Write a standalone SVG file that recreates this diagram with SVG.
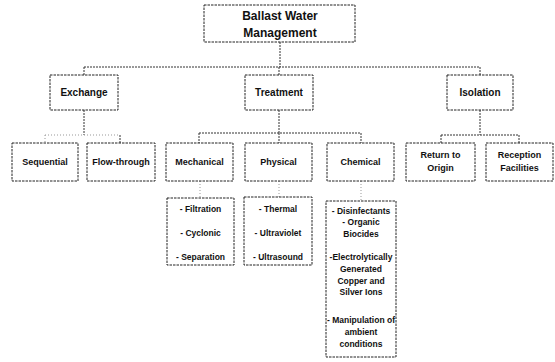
<svg xmlns="http://www.w3.org/2000/svg" width="555" height="362" viewBox="0 0 555 362">
<style>
.box{fill:#fff;stroke:#222;stroke-width:1;stroke-dasharray:2.5 1}
.ln{fill:none;stroke:#333;stroke-width:1;stroke-dasharray:2 1}
.lf{fill:none;stroke:#999;stroke-width:1;stroke-dasharray:1 2}
text{font-family:"Liberation Sans",Arial,sans-serif;font-weight:bold;fill:#111;text-anchor:middle}
.t1{font-size:12px}
.t2{font-size:10px}
.t3{font-size:9px}
.t4{font-size:8.5px}
</style>
<rect width="555" height="362" fill="#fff"/>
<g id="connectors">
<path class="ln" d="M280 42V67M84 67H480M84 67V75M279 67V75M480 67V75"/>
<path class="ln" d="M84 110V135M120 135V143"/>
<path class="lf" d="M45 135H84M84 135H120M45 135V143"/>
<path class="ln" d="M279 110V133M199 133H361M199 133V143M279 133V143M361 133V143"/>
<path class="ln" d="M480 110V135M441 135H519M441 135V143M519 135V143"/>
<path class="lf" d="M200 181V198M279 181V197M361 181V201"/>
</g>
<g id="n-bwm"><rect class="box" x="204" y="5" width="151" height="37"/><text class="t1" x="280" y="20">Ballast Water</text><text class="t1" x="280" y="37">Management</text></g>
<g id="n-exchange"><rect class="box" x="50" y="75" width="68" height="35"/><text class="t2" x="84" y="96">Exchange</text></g>
<g id="n-treatment"><rect class="box" x="245" y="75" width="68" height="35"/><text class="t2" x="279" y="96">Treatment</text></g>
<g id="n-isolation"><rect class="box" x="447" y="75" width="66" height="35"/><text class="t2" x="480" y="96">Isolation</text></g>
<g id="n-sequential"><rect class="box" x="12" y="143" width="66" height="38"/><text class="t3" x="45" y="165">Sequential</text></g>
<g id="n-flow"><rect class="box" x="87" y="143" width="68" height="38"/><text class="t3" x="121" y="165">Flow-through</text></g>
<g id="n-mechanical"><rect class="box" x="166" y="143" width="67" height="38"/><text class="t3" x="199.5" y="165">Mechanical</text></g>
<g id="n-physical"><rect class="box" x="245" y="143" width="67" height="38"/><text class="t3" x="278.5" y="165">Physical</text></g>
<g id="n-chemical"><rect class="box" x="327" y="143" width="67" height="38"/><text class="t3" x="360.5" y="165">Chemical</text></g>
<g id="n-return"><rect class="box" x="406" y="143" width="69" height="38"/><text class="t3" x="440.5" y="158">Return to</text><text class="t3" x="440.5" y="171">Origin</text></g>
<g id="n-reception"><rect class="box" x="486" y="143" width="67" height="38"/><text class="t3" x="519.5" y="158">Reception</text><text class="t3" x="519.5" y="171">Facilities</text></g>
<g id="n-mech-list"><rect class="box" x="167" y="198" width="67" height="67"/><text class="t4" x="200.5" y="212">- Filtration</text><text class="t4" x="200.5" y="236">- Cyclonic</text><text class="t4" x="200.5" y="260">- Separation</text></g>
<g id="n-phys-list"><rect class="box" x="244" y="197" width="68" height="68"/><text class="t4" x="278" y="212">- Thermal</text><text class="t4" x="278" y="236">- Ultraviolet</text><text class="t4" x="278" y="260">- Ultrasound</text></g>
<g id="n-chem-list"><rect class="box" x="326" y="201" width="70" height="156"/>
<text class="t4" x="361" y="214">- Disinfectants</text>
<text class="t4" x="361" y="225">- Organic</text>
<text class="t4" x="361" y="237">Biocides</text>
<text class="t4" x="361" y="260">-Electrolytically</text>
<text class="t4" x="361" y="272">Generated</text>
<text class="t4" x="361" y="284">Copper and</text>
<text class="t4" x="361" y="295">Silver Ions</text>
<text class="t4" x="361" y="323">- Manipulation of</text>
<text class="t4" x="361" y="335">ambient</text>
<text class="t4" x="361" y="347">conditions</text></g>
</svg>
